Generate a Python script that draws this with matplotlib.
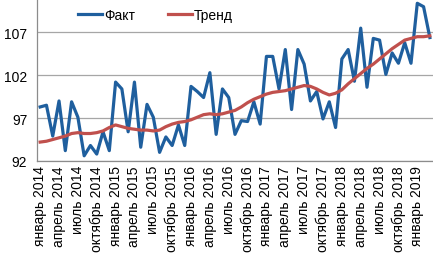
import numpy as np
import matplotlib.pyplot as plt

plt.rcParams['font.family'] = ['Liberation Sans', 'DejaVu Sans']

# monthly data, Jan 2014 - Mar 2019
fact = [98.3, 98.5, 94.9, 99.0, 93.2, 98.9, 97.1, 92.6, 93.8, 92.8, 95.4, 93.2,
        101.2, 100.4, 95.4, 101.2, 93.6, 98.6, 97.1, 93.0, 94.8, 93.8, 96.2, 93.8,
        100.7, 100.1, 99.4, 102.3, 95.1, 100.4, 99.4, 95.1, 96.7, 96.6, 98.9, 96.3,
        104.2, 104.2, 100.4, 105.0, 98.0, 105.0, 103.3, 99.0, 100.1, 96.9, 98.9, 95.9,
        103.9, 105.0, 101.3, 107.5, 100.6, 106.3, 106.1, 102.1, 104.6, 103.4, 105.8, 103.4,
        110.4, 110.0, 106.4]
trend = [94.2, 94.3, 94.5, 94.7, 94.9, 95.2, 95.3, 95.2, 95.2, 95.3, 95.5, 95.9,
         96.2, 96.0, 95.8, 95.7, 95.6, 95.6, 95.5, 95.6, 96.0, 96.3, 96.5, 96.6,
         96.8, 97.1, 97.4, 97.5, 97.4, 97.5, 97.7, 97.9, 98.3, 98.8, 99.2, 99.5,
         99.8, 100.0, 100.1, 100.2, 100.4, 100.6, 100.8, 100.7, 100.4, 100.0, 99.7, 99.9,
         100.3, 101.0, 101.6, 102.2, 102.8, 103.3, 103.9, 104.5, 105.1, 105.6, 106.1, 106.3,
         106.5, 106.5, 106.6]

months = ['январь', 'апрель', 'июль', 'октябрь']
years = [2014, 2015, 2016, 2017, 2018, 2019]
tick_labels = [f'{m} {y}' for y in years for m in months][:21]

fig = plt.figure(figsize=(4.33, 2.55), dpi=100)
ax = fig.add_axes([0.0855, 0.365, 0.9145, 0.635])

x = np.arange(len(fact))
ax.plot(x, fact, color='#1f5f9e', lw=2.3, label='Факт', zorder=3)
ax.plot(x, trend, color='#c0504d', lw=2.3, label='Тренд', zorder=4)

ax.set_xlim(-0.5, len(fact) - 0.5)
ax.set_ylim(92, 110.9)
ax.set_yticks([92, 97, 102, 107])
ax.set_xticks(np.arange(0, len(fact), 3))
ax.set_xticklabels(tick_labels, rotation=90, fontsize=10)
ax.tick_params(axis='y', labelsize=10, length=0, pad=7)
ax.tick_params(axis='x', length=0, pad=3)
ax.grid(axis='y', color='#a6a6a6', lw=0.9)
ax.set_axisbelow(True)

for s in ['top', 'right']:
    ax.spines[s].set_visible(False)
for s in ['left', 'bottom']:
    ax.spines[s].set_color('#8c8c8c')
    ax.spines[s].set_linewidth(0.9)

ax.legend(loc='upper center', bbox_to_anchor=(0.30, 1.02), ncol=2, frameon=False,
          fontsize=10, handlelength=1.7, columnspacing=2.4, handletextpad=0.15)

fig.savefig('out.png', dpi=100)
